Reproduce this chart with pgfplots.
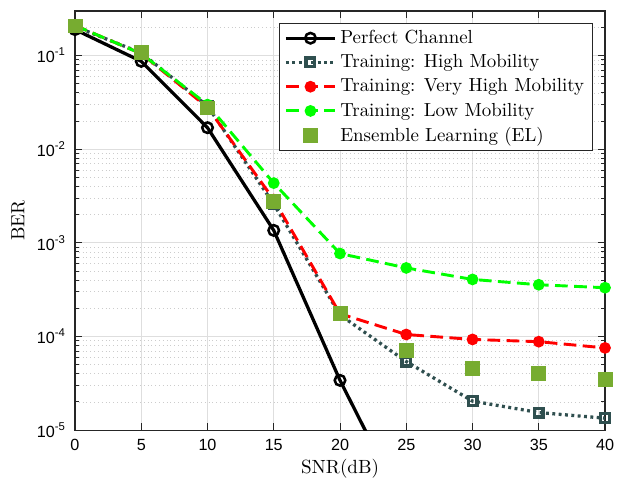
\documentclass[border=0pt]{standalone}
\usepackage{fontspec}
\setsansfont{Liberation Sans}
\usepackage{pgfplots}
\pgfplotsset{compat=1.18}
\definecolor{slate}{RGB}{47,79,79}
\definecolor{elgreen}{RGB}{119,172,48}
\definecolor{axgray}{RGB}{38,38,38}
\begin{document}
\begin{tikzpicture}
\begin{axis}[
  name=ax, scale only axis, width=291.5pt, height=230.5pt,
  xmin=0, xmax=40, ymode=log, ymin=1e-5, ymax=0.3,
  xtick={0,5,...,40},
  ytick={1e-5,1e-4,1e-3,1e-2,1e-1},
  yticklabels={10\textsuperscript{-5},10\textsuperscript{-4},10\textsuperscript{-3},10\textsuperscript{-2},10\textsuperscript{-1}},
  minor ytick={2e-5,3e-5,4e-5,5e-5,6e-5,7e-5,8e-5,9e-5,
               2e-4,3e-4,4e-4,5e-4,6e-4,7e-4,8e-4,9e-4,
               2e-3,3e-3,4e-3,5e-3,6e-3,7e-3,8e-3,9e-3,
               2e-2,3e-2,4e-2,5e-2,6e-2,7e-2,8e-2,9e-2,
               2e-1,3e-1},
  /pgf/number format/assume math mode=true,
  tick label style={font=\sffamily\fontsize{8.9}{10}\selectfont},
  xticklabel style={yshift=-3.8pt, inner ysep=1pt},
  yticklabel style={xshift=-1.5pt},
  tick align=inside,
  major tick length=4pt, minor tick length=2.2pt,
  tick style={axgray, line width=0.5pt},
  axis line style={axgray, line width=0.6pt},
  xmajorgrids, ymajorgrids, yminorgrids,
  major grid style={black!13, line width=0.5pt},
  minor grid style={black!20, line width=0.4pt, dash pattern=on 0.5pt off 1.6pt},
  xlabel={SNR(dB)}, ylabel={BER},
  label style={font=\fontsize{10.5}{12}\selectfont},
  xlabel style={at={(axis description cs:0.5,-0.092)}, anchor=center, inner ysep=0.5pt},
  ylabel style={at={(axis description cs:-0.1075,0.5)}, anchor=center},
  legend cell align=left,
  legend style={at={(axis description cs:0.977,0.971)}, anchor=north east,
    draw=axgray, line width=0.5pt, fill=white,
    font=\fontsize{10.4}{12}\selectfont, inner xsep=2.5pt, inner ysep=1.6pt,
    row sep=0.6pt},
  legend image code/.code={\draw[mark repeat=2,mark phase=2] plot coordinates {(0pt,0pt) (13.5pt,0pt) (27pt,0pt)};},
]
\addplot[black, line width=1.8pt, mark=o, mark size=2.9pt, mark options={solid, line width=1.4pt}]
  coordinates {(0,0.19)(5,0.087)(10,0.017)(15,0.00136)(20,3.4e-5)(25,1.35e-6)};
\addlegendentry{Perfect Channel}
\addplot[slate, line width=1.8pt, dash pattern=on 1.6pt off 1.9pt, mark=square, mark size=2.4pt, mark options={solid, line width=1.8pt}]
  coordinates {(0,0.205)(5,0.107)(10,0.029)(15,0.0026)(20,1.7e-4)(25,5.4e-5)(30,2.04e-5)(35,1.54e-5)(40,1.34e-5)};
\addlegendentry{Training: High Mobility}
\addplot[red, line width=1.6pt, dash pattern=on 7pt off 3.5pt, mark=*, mark size=2.4pt, mark options={solid}]
  coordinates {(0,0.21)(5,0.105)(10,0.028)(15,0.0029)(20,1.75e-4)(25,1.05e-4)(30,9.3e-5)(35,8.8e-5)(40,7.55e-5)};
\addlegendentry{Training: Very High Mobility}
\addplot[green, line width=1.6pt, dash pattern=on 7pt off 3.5pt, mark=*, mark size=2.4pt, mark options={solid}]
  coordinates {(0,0.21)(5,0.105)(10,0.030)(15,0.00435)(20,7.7e-4)(25,5.4e-4)(30,4.07e-4)(35,3.57e-4)(40,3.32e-4)};
\addlegendentry{Training: Low Mobility}
\addplot[only marks, mark=square*, mark size=3.8pt, mark options={draw=elgreen, fill=elgreen}]
  coordinates {(0,0.208)(5,0.108)(10,0.0277)(15,0.00275)(20,1.75e-4)(25,7.06e-5)(30,4.6e-5)(35,4.07e-5)(40,3.45e-5)};
\addlegendentry{Ensemble Learning (EL)}
\end{axis}
\path (ax.south west) ++(-41.25pt,-27.5pt) rectangle ([xshift=8.8pt,yshift=6.05pt]ax.north east);
\end{tikzpicture}
\end{document}
